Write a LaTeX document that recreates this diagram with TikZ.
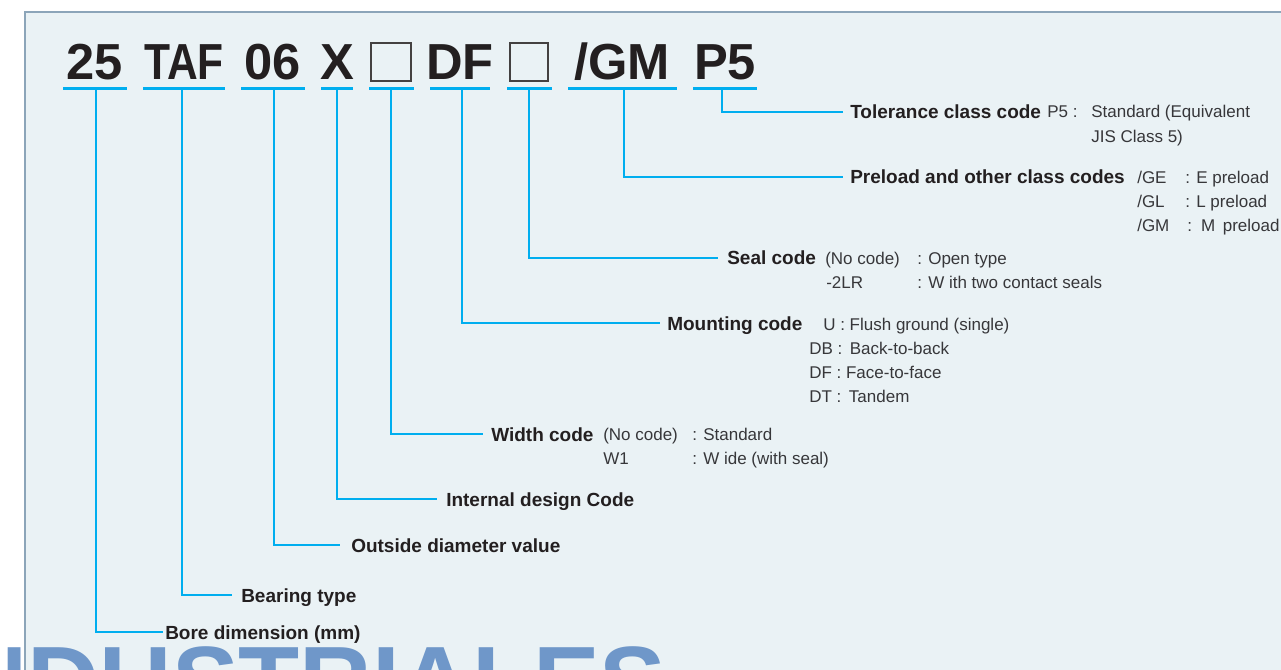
\documentclass[tikz,border=0pt]{standalone}
\usepackage{fontspec}
\setmainfont{Liberation Sans}
\usetikzlibrary{calc}
\definecolor{bg}{RGB}{234,242,245}
\definecolor{frame}{RGB}{140,165,185}
\definecolor{cy}{RGB}{0,174,239}
\definecolor{ink}{RGB}{35,31,32}
\definecolor{txt}{RGB}{55,55,58}
\definecolor{wm}{RGB}{111,151,201}
\tikzset{
  title/.style={font=\fontsize{38}{38}\selectfont\bfseries, text=ink, inner sep=0pt, anchor=base},
  codebox/.style={draw=ink!85, line width=1.1pt, inner sep=0pt},
  uline/.style={cy, line width=2.25pt},
  leader/.style={cy, line width=1.1pt},
  lab/.style={font=\fontsize{14.25}{14.25}\selectfont\bfseries, text=ink, inner sep=0pt, anchor=base west},
  val/.style={font=\fontsize{12.75}{12.75}\selectfont, text=txt, inner sep=0pt, anchor=base west},
  wmark/.style={font=\fontsize{75}{75}\selectfont\bfseries, text=wm, inner sep=0pt, anchor=base east}
}
\begin{document}
\begin{tikzpicture}[x=0.75pt,y=-0.75pt]
\useasboundingbox (0,0) rectangle (1281,670);
\clip (0,0) rectangle (1281,670);
\fill[bg] (25,12) rectangle (1290,680);
\draw[frame, line width=1.5pt] (25,680) -- (25,12) -- (1290,12);

% watermark
\node[wmark] (wm) at (667,716) {NDUSTRIALES};

% title segments
\node[title] (t1) at (95,80) {25};
\node[title] (t2) at (184,80) {\scalebox{0.84}[1]{TAF}};
\node[title] (t3) at (273,80) {06};
\node[title] (t4) at (337,80) {X};
\node[codebox, minimum width=30pt, minimum height=28.5pt] (t5) at (391,62) {};
\node[title] (t6) at (460,80) {DF};
\node[codebox, minimum width=28.5pt, minimum height=28.5pt] (t7) at (529,62) {};
\node[title] (t8) at (622,80) {/GM};
\node[title] (t9) at (725,80) {P5};

% underlines
\draw[uline] (63,89) -- (127,89);
\draw[uline] (143,89) -- (225,89);
\draw[uline] (241,89) -- (305,89);
\draw[uline] (321,89) -- (353,89);
\draw[uline] (369,89) -- (414,89);
\draw[uline] (430,89) -- (490,89);
\draw[uline] (507,89) -- (552,89);
\draw[uline] (568,89) -- (677,89);
\draw[uline] (693,89) -- (757,89);

\coordinate (u1) at (96,90);
\coordinate (u2) at (182,90);
\coordinate (u3) at (274,90);
\coordinate (u4) at (337,90);
\coordinate (u5) at (391,90);
\coordinate (u6) at (462,90);
\coordinate (u7) at (529,90);
\coordinate (u8) at (624,90);
\coordinate (u9) at (722,90);

% labels
\node[lab] (L1) at (165,639) {Bore dimension (mm)};
\node[lab] (L2) at (241,602) {Bearing type};
\node[lab] (L3) at (351,552) {Outside diameter value};
\node[lab] (L4) at (446,506) {Internal design Code};
\node[lab] (L5) at (491,441) {Width code};
\node[lab] (L6) at (667,330) {Mounting code};
\node[lab] (L7) at (727,265) {Seal code};
\node[lab] (L8) at (850,184) {Preload and other class codes};
\node[lab] (L9) at (850,119) {Tolerance class code};

% leaders
\draw[leader] (u1) |- ($(L1.base west)+(-2,-7)$);
\draw[leader] (u2) |- ($(L2.base west)+(-9,-7)$);
\draw[leader] (u3) |- ($(L3.base west)+(-11,-7)$);
\draw[leader] (u4) |- ($(L4.base west)+(-9,-7)$);
\draw[leader] (u5) |- ($(L5.base west)+(-8,-7)$);
\draw[leader] (u6) |- ($(L6.base west)+(-7,-7)$);
\draw[leader] (u7) |- ($(L7.base west)+(-9,-7)$);
\draw[leader] (u8) |- ($(L8.base west)+(-7,-7)$);
\draw[leader] (u9) |- ($(L9.base west)+(-7,-7)$);

% values
\node[val] (v1) at (1047,118) {P5 :};
\node[val] (v2) at (1091,118) {Standard (Equivalent};
\node[val] (v3) at (1091,143) {JIS Class 5)};

\node[val] (v4) at (1137,184) {/GE};
\node[val] (v5) at (1185,184) {: E preload};
\node[val] (v6) at (1137,208) {/GL};
\node[val] (v7) at (1185,208) {: L preload};
\node[val] (v8) at (1137,232) {/GM};
\node[val] (v9) at (1187,232) {:\, M\, preload};

\node[val] (v10) at (825,265) {(No code)};
\node[val] (v11) at (917,265) {: Open type};
\node[val] (v12) at (826,289) {-2LR};
\node[val] (v13) at (917,289) {: W ith two contact seals};

\node[val] (v14) at (823,330) {U : Flush ground (single)};
\node[val] (v15) at (809,354) {DB :\, Back-to-back};
\node[val] (v16) at (809,378) {DF : Face-to-face};
\node[val] (v17) at (809,402) {DT :\, Tandem};

\node[val] (v18) at (603,440) {(No code)};
\node[val] (v19) at (692,440) {: Standard};
\node[val] (v20) at (603,464) {W1};
\node[val] (v21) at (692,464) {: W ide (with seal)};
\end{tikzpicture}
\end{document}
